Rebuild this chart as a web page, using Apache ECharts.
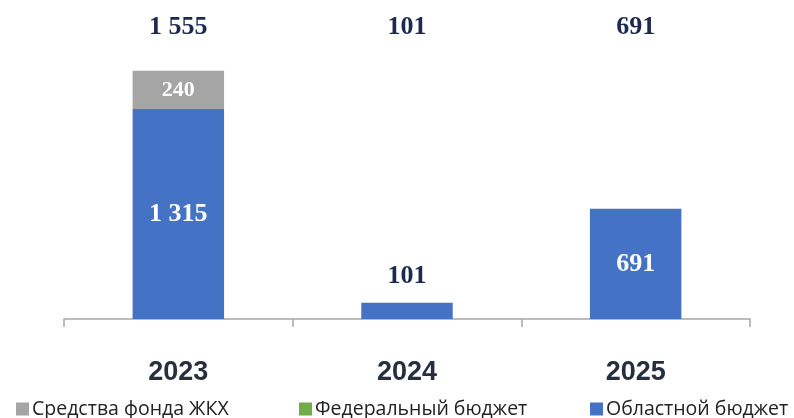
<!DOCTYPE html>
<html>
<head>
<meta charset="utf-8">
<script src="https://cdn.jsdelivr.net/npm/echarts@6/dist/echarts.min.js"></script>
<style>
html,body{margin:0;padding:0;background:#fff;}
#chart{width:794px;height:418px;}
</style>
</head>
<body>
<div id="chart"></div>
<script>
var categories = ['2023', '2024', '2025'];
var seriesNames = ['Средства фонда ЖКХ', 'Федеральный бюджет', 'Областной бюджет'];
var fundZhkh = [240, null, null];
var federal = [null, null, null];
var regional = [1315, 101, 691];
var totals = [1555, 101, 691];

function fmt(v) {
  return String(v).replace(/\B(?=(\d{3})+(?!\d))/g, ' ');
}

var chart = echarts.init(document.getElementById('chart'), null, {renderer: 'canvas'});
var serif = '"Liberation Serif", "Times New Roman", serif';
var navy = '#1B2A4E';

var regionalData = regional.map(function (v, i) {
  var item = {value: v};
  if (v < 300) {
    item.label = {position: 'top', distance: 14, color: navy};
  }
  return item;
});

var legendLefts = [16, 299, 590];
var legends = seriesNames.map(function (name, i) {
  return {
    bottom: -1,
    left: legendLefts[i],
    padding: 0,
    itemWidth: 13,
    itemHeight: 13,
    icon: 'rect',
    data: [name],
    textStyle: {
      fontFamily: '"Liberation Sans Narrow", "Open Sans", sans-serif',
      fontSize: 19.5,
      color: '#222',
      padding: [0, 0, 0, -2]
    }
  };
});

chart.setOption({
  animation: false,
  legend: legends,
  grid: {left: 64, right: 44, top: 63.5, bottom: 99},
  xAxis: [{
    type: 'category',
    data: categories,
    position: 'bottom',
    axisLine: {lineStyle: {color: '#A6A6A6', width: 1.5}},
    axisTick: {show: true, length: 8, lineStyle: {color: '#A6A6A6', width: 1.5}},
    axisLabel: {
      margin: 40,
      fontFamily: '"Liberation Sans", Arial, sans-serif',
      fontWeight: 'bold',
      fontSize: 27,
      color: '#262F3D'
    }
  }, {
    type: 'category',
    data: totals.map(fmt),
    position: 'top',
    axisLine: {show: false},
    axisTick: {show: false},
    axisLabel: {
      margin: 23,
      fontFamily: serif,
      fontWeight: 'bold',
      fontSize: 26,
      color: navy
    }
  }],
  yAxis: {
    type: 'value',
    min: 0,
    max: 1600,
    show: false,
    splitLine: {show: false}
  },
  series: [{
    name: seriesNames[2],
    type: 'bar',
    stack: 'total',
    barWidth: '40%',
    data: regionalData,
    itemStyle: {color: '#4472C4'},
    label: {
      show: true,
      position: 'inside',
      formatter: function (p) { return fmt(p.value); },
      fontFamily: serif,
      fontWeight: 'bold',
      fontSize: 26,
      color: '#fff'
    }
  }, {
    name: seriesNames[1],
    type: 'bar',
    stack: 'total',
    data: federal,
    itemStyle: {color: '#70AD47'}
  }, {
    name: seriesNames[0],
    type: 'bar',
    stack: 'total',
    data: fundZhkh,
    itemStyle: {color: '#A5A5A5'},
    label: {
      show: true,
      position: 'inside',
      formatter: function (p) { return fmt(p.value); },
      fontFamily: serif,
      fontWeight: 'bold',
      fontSize: 22,
      color: '#fff'
    }
  }]
});
</script>
</body>
</html>
